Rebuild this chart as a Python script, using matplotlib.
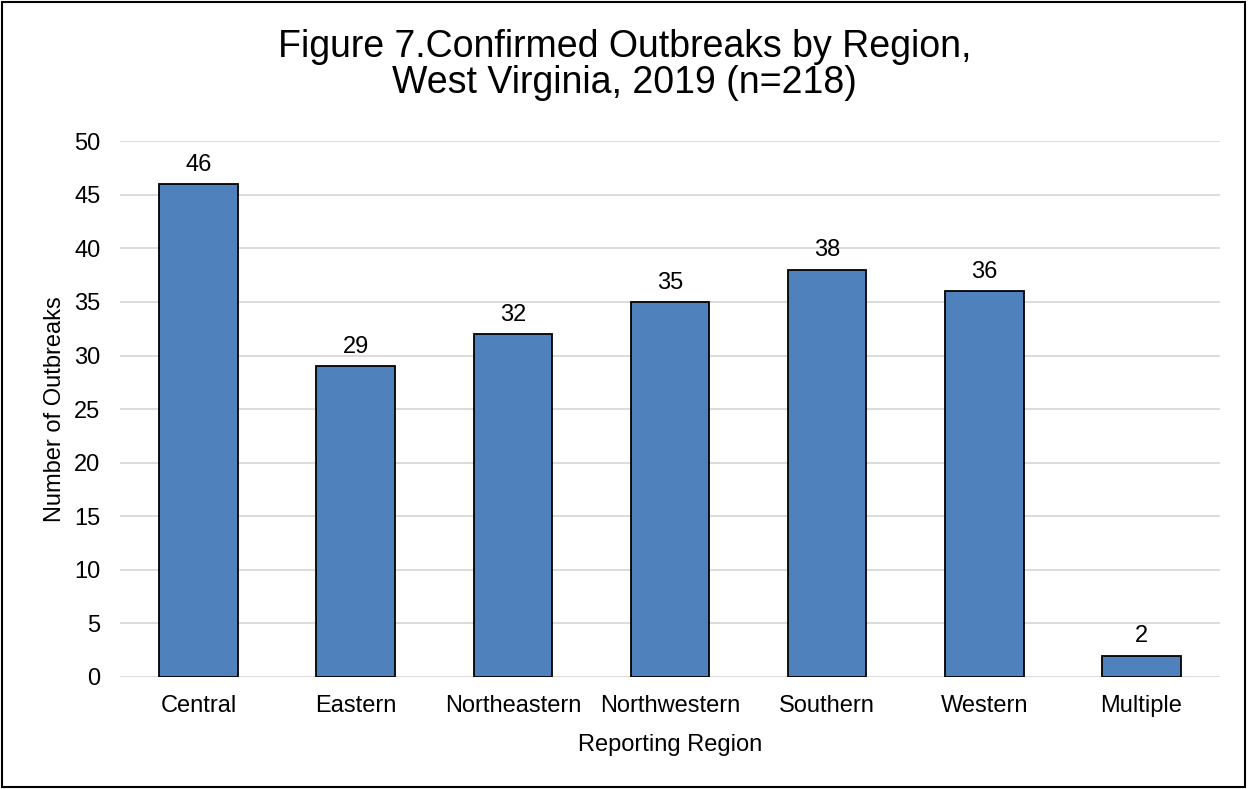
import matplotlib.pyplot as plt
from matplotlib.patches import Rectangle

regions = ["Central", "Eastern", "Northeastern", "Northwestern", "Southern", "Western", "Multiple"]
outbreaks = [46, 29, 32, 35, 38, 36, 2]

plt.rcParams['font.family'] = ['Liberation Sans', 'DejaVu Sans']

fig = plt.figure(figsize=(12.49, 7.89), dpi=100)
ax = fig.add_axes([0.0961, 0.142, 0.8807, 0.679])

x = range(len(regions))
bars = ax.bar(x, outbreaks, width=0.5, color='#4F81BD', edgecolor='black', linewidth=1.3, zorder=3)
for rect, v in zip(bars, outbreaks):
    ax.annotate(str(v), (rect.get_x() + rect.get_width() / 2, v), xytext=(0, 6),
                textcoords='offset points', ha='center', va='bottom', fontsize=17)

ax.set_xlim(-0.5, len(regions) - 0.5)
ax.set_ylim(0, 50)
ax.set_yticks(range(0, 51, 5))
ax.set_xticks(list(x))
ax.set_xticklabels(regions)
ax.tick_params(axis='both', length=0, labelsize=17)
ax.tick_params(axis='y', pad=14)
ax.tick_params(axis='x', pad=13)
ax.grid(axis='y', color='#d9d9d9', linewidth=1.3, zorder=0)
for s in ax.spines.values():
    s.set_visible(False)

ax.set_xlabel('Reporting Region', fontsize=17, labelpad=12)
ax.set_ylabel('Number of Outbreaks', fontsize=17, labelpad=6)
fig.text(0.5, 0.918, 'Figure 7.Confirmed Outbreaks by Region,\nWest Virginia, 2019 (n=218)',
         ha='center', va='center', fontsize=27, linespacing=1.0)

fig.patches.append(Rectangle((0.002, 0.003), 0.995, 0.994, transform=fig.transFigure,
                             fill=False, edgecolor='black', linewidth=1.5))

fig.savefig('out.png', dpi=100)
